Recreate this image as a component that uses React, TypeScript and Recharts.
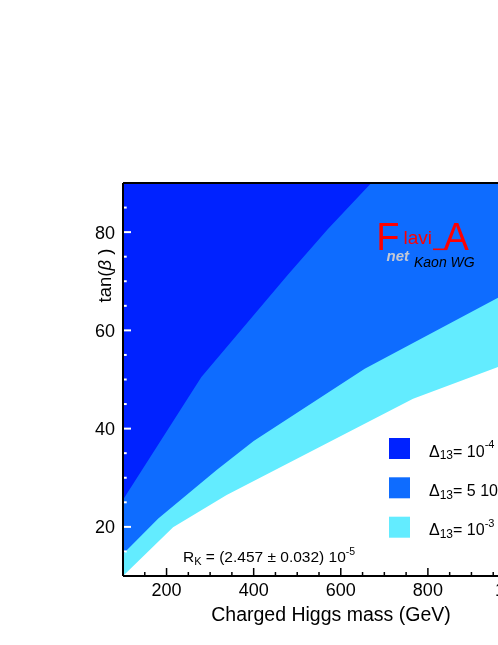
import { AreaChart, Area, XAxis, YAxis, ReferenceLine } from "recharts";

// boundary of each Delta_13 contour (charged Higgs mass in GeV, tan(beta))
const DARK_EDGE = [
  { m: 100, t: 25.5 },
  { m: 280, t: 50.5 },
  { m: 480, t: 71.5 },
  { m: 570, t: 80.6 },
  { m: 670, t: 90 },
];

const MID_EDGE = [
  { m: 100, t: 14.5 },
  { m: 181, t: 21.7 },
  { m: 315, t: 31.6 },
  { m: 400, t: 37.5 },
  { m: 655, t: 52.2 },
  { m: 1000, t: 68.5 },
];

const LIGHT_EDGE = [
  { m: 100, t: 10 },
  { m: 215, t: 19.9 },
  { m: 338, t: 26.5 },
  { m: 766, t: 46.1 },
  { m: 963, t: 52.6 },
  { m: 1000, t: 53.8 },
];

const X_TICKS = [
  150, 200, 250, 300, 350, 400, 450, 500, 550, 600, 650, 700, 750, 800, 850,
  900, 950, 1000,
];
const X_LABELS = [200, 400, 600, 800, 1000];
const Y_TICKS = [15, 20, 25, 30, 35, 40, 45, 50, 55, 60, 65, 70, 75, 80, 85];
const Y_LABELS = [20, 40, 60, 80];

const DARK = "#0022ff";
const MID = "#0e6cff";
const LIGHT = "#63ecff";

const FONT = "'Liberation Sans', Arial, sans-serif";

function YTick(props: any) {
  const { x, y, payload } = props;
  const v = payload.value;
  const major = Y_LABELS.includes(v);
  const axis = x + 8;
  return (
    <g>
      <line
        x1={axis + 1}
        x2={axis + (major ? 8 : 3.7)}
        y1={y}
        y2={y}
        stroke="#fff"
        strokeWidth={2}
      />
      {major && (
        <text x={axis - 8} y={y} dy="0.36em" textAnchor="end" fontSize={18} fill="#000" fontFamily={FONT}>
          {v}
        </text>
      )}
    </g>
  );
}

function XTick(props: any) {
  const { x, y, payload } = props;
  const v = payload.value;
  const major = X_LABELS.includes(v);
  const axis = y - 7;
  return (
    <g>
      <line
        x1={x}
        x2={x}
        y1={axis - 1}
        y2={axis - (major ? 8 : 4)}
        stroke="#000"
        strokeWidth={1.5}
      />
      {major && (
        <text x={x} y={y} dy="0.71em" textAnchor="middle" fontSize={18} fill="#000" fontFamily={FONT}>
          {v}
        </text>
      )}
    </g>
  );
}

function Overlay() {
  const legend = [
    { color: DARK, y: 430, pre: "", post: "-4" },
    { color: MID, y: 469.3, pre: "5 ", post: "-4" },
    { color: LIGHT, y: 508.7, pre: "", post: "-3" },
  ];
  return (
    <svg
      width={490}
      height={629}
      style={{ position: "absolute", left: 0, top: 0, pointerEvents: "none" }}
      fontFamily={FONT}
    >
      {/* FlaviA net logo */}
      <text x={368.3} y={242} fontSize={38} fill="#ff0000">F</text>
      <text x={395.5} y={236.3} fontSize={19} fill="#ff0000">lavi</text>
      <line x1={425} x2={439} y1={241.3} y2={241.3} stroke="#ff0000" strokeWidth={1.6} />
      <text x={435.5} y={242} fontSize={38} fill="#ff0000">A</text>
      <text x={378.5} y={253} fontSize={15} fontStyle="italic" fontWeight="bold" fill="#c4c8d4">net</text>
      <text x={406} y={258.7} fontSize={14} fontStyle="italic" fill="#000">Kaon WG</text>

      {/* legend */}
      {legend.map((l, i) => (
        <g key={i}>
          <rect x={381} y={l.y} width={21} height={21} fill={l.color} />
          <text x={421} y={l.y + 18.5} fontSize={16} fill="#000">
            Δ
            <tspan fontSize={12} dy={2.7}>13</tspan>
            <tspan dy={-2.7}>{`= ${l.pre}10`}</tspan>
            <tspan fontSize={11} dy={-8.4}>{l.post}</tspan>
          </text>
        </g>
      ))}

      {/* measured ratio */}
      <text x={175} y={554.3} fontSize={15.5} fill="#000">
        R
        <tspan fontSize={11} dy={3}>K</tspan>
        <tspan dy={-3}> = (2.457 ± 0.032) 10</tspan>
        <tspan fontSize={10.5} dy={-7}>-5</tspan>
      </text>

      {/* axis titles */}
      <text x={323} y={613} textAnchor="middle" fontSize={19.5} fill="#000">
        Charged Higgs mass (GeV)
      </text>
      <text transform="translate(103,267.5) rotate(-90)" textAnchor="middle" fontSize={18.5} fill="#000">
        tan(<tspan fontStyle="italic">β</tspan> )
      </text>
    </svg>
  );
}

export default function App() {
  return (
    <div
      style={{
        position: "fixed",
        left: 8,
        top: 8,
        width: 490,
        height: 629,
        overflow: "hidden",
        fontFamily: FONT,
      }}
    >
      <AreaChart width={540} height={629} margin={{ top: 175, right: 33, bottom: 31, left: 55 }}>
        <Area
          data={LIGHT_EDGE}
          dataKey="t"
          type="linear"
          baseValue="dataMax"
          fill={LIGHT}
          fillOpacity={1}
          stroke="none"
          isAnimationActive={false}
        />
        <Area
          data={MID_EDGE}
          dataKey="t"
          type="linear"
          baseValue="dataMax"
          fill={MID}
          fillOpacity={1}
          stroke="none"
          isAnimationActive={false}
        />
        <Area
          data={DARK_EDGE}
          dataKey="t"
          type="linear"
          baseValue="dataMax"
          fill={DARK}
          fillOpacity={1}
          stroke="none"
          isAnimationActive={false}
        />
        <ReferenceLine y={90} stroke="#000" strokeWidth={2} />
        <XAxis
          type="number"
          dataKey="m"
          domain={[100, 1000]}
          ticks={X_TICKS}
          allowDataOverflow
          tickSize={0}
          tickMargin={7}
          tick={XTick}
          axisLine={{ stroke: "#000", strokeWidth: 2 }}
          interval={0}
        />
        <YAxis
          type="number"
          domain={[10, 90]}
          ticks={Y_TICKS}
          allowDataOverflow
          width={60}
          tickSize={0}
          tickMargin={8}
          tick={YTick}
          axisLine={{ stroke: "#000", strokeWidth: 2 }}
          interval={0}
        />
      </AreaChart>
      <Overlay />
    </div>
  );
}
